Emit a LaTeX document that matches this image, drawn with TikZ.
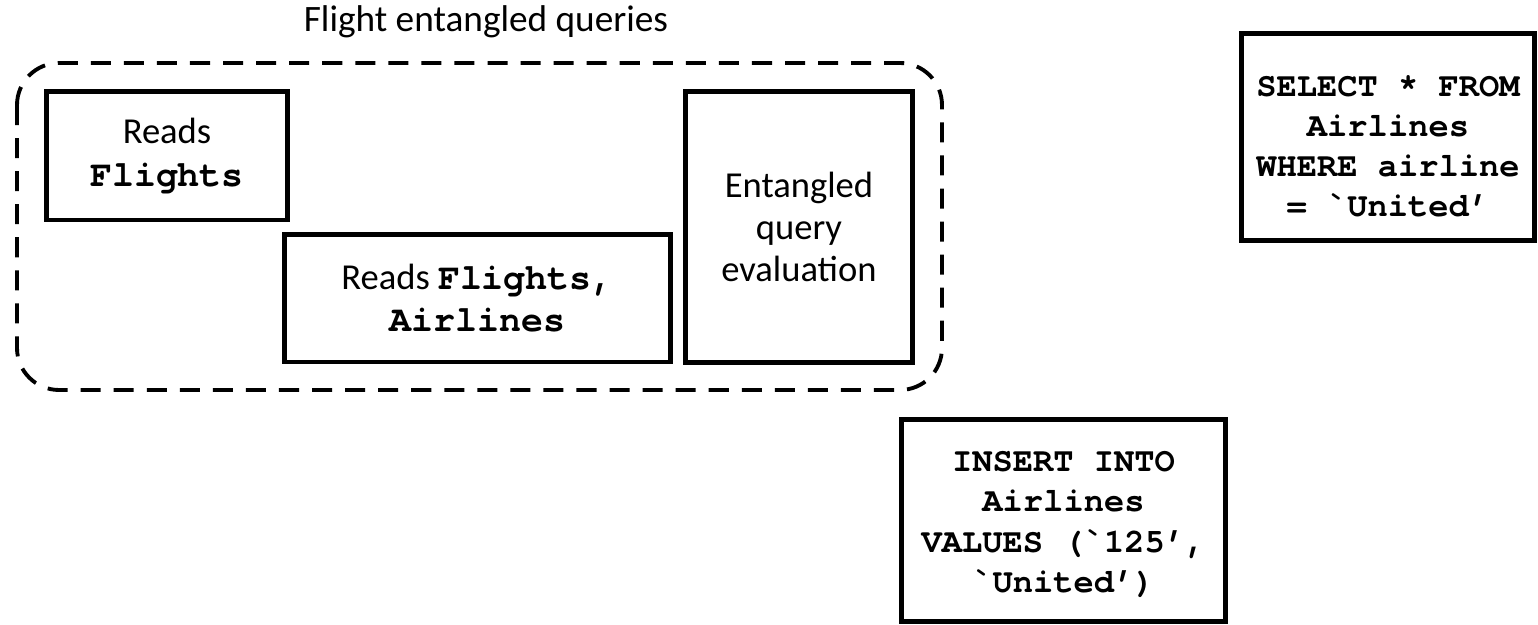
\documentclass[tikz,border=0pt]{standalone}
\usepackage{fontspec}
\setmainfont{Carlito}
\setmonofont{TeX Gyre Cursor}
\begin{document}
\begin{tikzpicture}[x=0.01cm,y=-0.01cm,
    box/.style={draw,line width=1.4pt,align=center,inner sep=0pt},
    txt/.style={font=\fontsize{10.4}{12}\selectfont},
    sql/.style={font=\fontsize{9.6}{11.4}\selectfont\ttfamily\bfseries,align=center}]

    \def\group{(17,63) rectangle (942,390)}
    \useasboundingbox (0,0) rectangle (1538,625);

    %draw group:
    \draw[line width=1.1pt,dash pattern=on 5.7pt off 3.7pt,rounded corners=0.42cm] \group;
    \node[txt,font=\fontsize{10.6}{12}\selectfont] (title) at (486,22) {Flight entangled queries};

    %draw boxes:
    \node[box,txt,minimum width=2.40cm,minimum height=1.28cm] (reads) at (167,156)
        {Reads\\\ttfamily\bfseries Flights};
    \node[box,txt,minimum width=3.85cm,minimum height=1.27cm] (readsboth) at (477.5,298.5)
        {Reads {\ttfamily\bfseries Flights,}\\\ttfamily\bfseries Airlines};
    \node[box,txt,minimum width=2.26cm,minimum height=2.70cm] (evalq) at (799,227)
        {Entangled\\query\\evaluation};

    %draw queries:
    \node[box,minimum width=2.92cm,minimum height=2.06cm] (select) at (1388,137) {};
    \node[sql] (selecttext) at ([yshift=-0.09cm]select.center)
        {SELECT * FROM\\Airlines\\WHERE airline\\= `United’};
    \node[box,minimum width=3.23cm,minimum height=2.01cm] (insert) at (1063.5,520.5) {};
    \node[sql] (inserttext) at ([yshift=-0.04cm]insert.center)
        {INSERT INTO\\Airlines\\VALUES (`125’,\\`United’)};

\end{tikzpicture}
\end{document}
